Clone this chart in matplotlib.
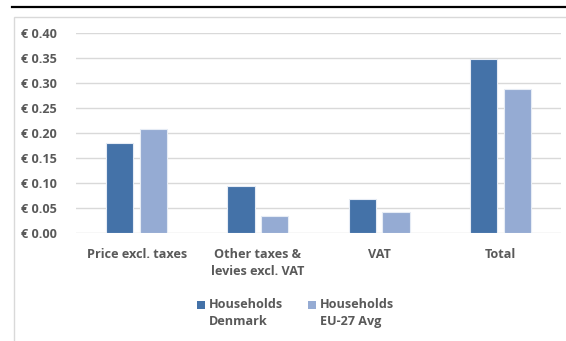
import matplotlib
matplotlib.use("Agg")
import matplotlib.pyplot as plt
from matplotlib.patches import Rectangle
from matplotlib.lines import Line2D
import numpy as np

categories = ["Price excl. taxes", "Other taxes &\nlevies excl. VAT", "VAT", "Total"]
denmark = [0.181, 0.095, 0.068, 0.348]
eu27 = [0.208, 0.035, 0.042, 0.287]
series_labels = ["Households\nDenmark", "Households\nEU-27 Avg"]
yticks = [0.0, 0.05, 0.10, 0.15, 0.20, 0.25, 0.30, 0.35, 0.40]

dk_color = "#4472A8"
eu_color = "#95ABD3"
text_color = "#595959"

plt.rcParams["font.family"] = ["Open Sans", "DejaVu Sans"]
plt.rcParams["font.weight"] = "bold"
FS = 9.1

W, H = 566, 341
fig = plt.figure(figsize=(W / 100, H / 100), dpi=100)
ax = fig.add_axes([76 / W, 1 - 233 / H, 485 / W, 200 / H])

x = np.arange(len(categories))
w = 0.225
ax.bar(x - 0.14, denmark, w, color=dk_color, edgecolor="#E6ECF5", linewidth=0.8, zorder=3)
ax.bar(x + 0.14, eu27, w, color=eu_color, edgecolor="#E6ECF5", linewidth=0.8, zorder=3)

ax.set_xlim(-0.5, len(categories) - 0.5)
ax.set_ylim(0, 0.40)
ax.set_yticks(yticks)
ax.set_yticklabels([f"€ {v:.2f}" for v in yticks])
ax.set_xticks(x)
ax.set_xticklabels(categories, linespacing=1.35)
ax.tick_params(axis="y", length=0, pad=14, labelsize=FS, labelcolor=text_color)
ax.tick_params(axis="x", length=0, pad=11, labelsize=FS, labelcolor=text_color)
for lab in ax.get_xticklabels() + ax.get_yticklabels():
    lab.set_fontweight("bold")

ax.grid(axis="y", color="#D9D9D9", linewidth=1.0, zorder=0)
ax.set_axisbelow(True)
for s in ax.spines.values():
    s.set_visible(False)

# legend: square key beside a two-line label
for kx, color, label in zip([197, 308], [dk_color, eu_color], series_labels):
    fig.add_artist(Rectangle((kx / W, 1 - 308.5 / H), 8 / W, 8 / H, transform=fig.transFigure,
                             facecolor=color, edgecolor="none"))
    fig.text((kx + 12) / W, 1 - 298.5 / H, label, ha="left", va="top", fontsize=FS,
             fontweight="bold", color=text_color, linespacing=1.35)

# chart frame and rule above it
fig.add_artist(Rectangle((13.5 / W, -0.1), 1.2, (1 - 16.5 / H) + 0.1, transform=fig.transFigure,
                         fill=False, edgecolor="#D9D9D9", linewidth=1.0))
fig.add_artist(Line2D([12 / W, 1.0], [1 - 7 / H, 1 - 7 / H], transform=fig.transFigure,
                      color="black", linewidth=1.6))

fig.savefig("out.png", dpi=100)
